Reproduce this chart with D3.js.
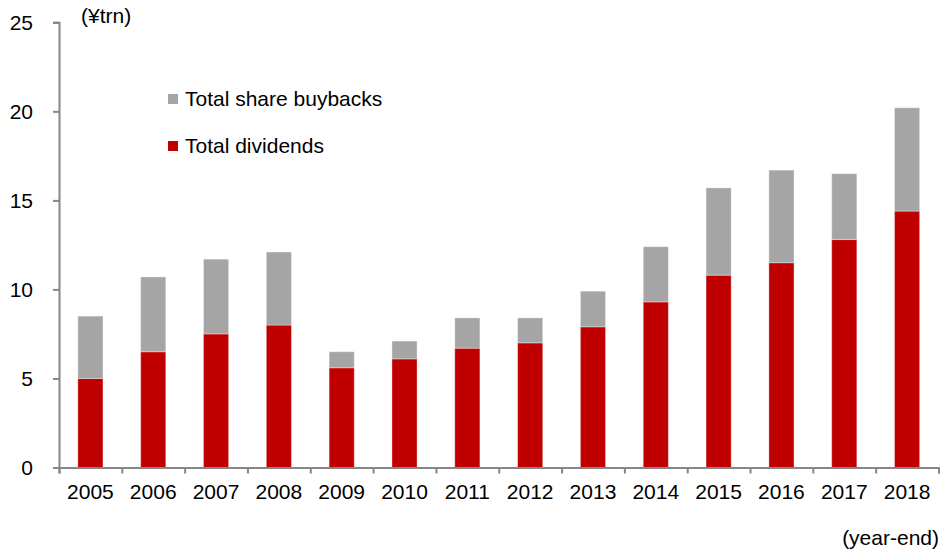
<!DOCTYPE html>
<html>
<head>
<meta charset="utf-8">
<script src="https://cdn.jsdelivr.net/npm/d3@7"></script>
<style>
body { margin: 0; background: #fff; }
text { font-family: "Liberation Sans", Arial, sans-serif; }
</style>
</head>
<body>
<div id="chart"></div>
<script>
// data (¥trn)
var years = ["2005","2006","2007","2008","2009","2010","2011","2012","2013","2014","2015","2016","2017","2018"];
var dividends = [5.0, 6.5, 7.5, 8.0, 5.6, 6.1, 6.7, 7.0, 7.9, 9.3, 10.8, 11.5, 12.8, 14.4];
var buybacks = [3.5, 4.2, 4.2, 4.1, 0.9, 1.0, 1.7, 1.4, 2.0, 3.1, 4.9, 5.2, 3.7, 5.8];
var yTicks = [0, 5, 10, 15, 20, 25];

//plot stacked bars
function plotChart(){
	var width = 942, height = 553;
	var plotLeft = 59, plotRight = 938.5, plotTop = 22.3, plotBottom = 467.5;
	var fontSize = "21px";

	var svg = d3.select("#chart").append("svg")
		.attr("width", width)
		.attr("height", height);

	var x = d3.scaleBand()
		.domain(years)
		.range([plotLeft, plotRight])
		.paddingInner(0.6)
		.paddingOuter(0.3);

	var y = d3.scaleLinear()
		.domain([0, 25])
		.range([plotBottom, plotTop]);

	var rows = years.map(function(d, i){
		return {year: d, dividends: dividends[i], buybacks: buybacks[i]};
	});

	var series = d3.stack().keys(["dividends", "buybacks"])(rows);
	var colors = {dividends: "#c00000", buybacks: "#a5a5a5"};

	svg.append("g")
		.selectAll("g")
		.data(series)
		.enter()
		.append("g")
		.attr("fill", function(d){ return colors[d.key]; })
		.selectAll("rect")
		.data(function(d){ return d; })
		.enter()
		.append("rect")
		.attr("x", function(d){ return x(d.data.year); })
		.attr("y", function(d){ return y(d[1]); })
		.attr("width", x.bandwidth())
		.attr("height", function(d){ return y(d[0]) - y(d[1]); })
		.attr("stroke", "#ffffff")
		.attr("stroke-opacity", 0.35)
		.attr("stroke-width", 1);

	// y axis
	var gy = svg.append("g")
		.attr("transform", "translate(" + plotLeft + ",0)")
		.call(d3.axisLeft(y).tickValues(yTicks).tickSize(6).tickPadding(20));
	gy.selectAll("text").style("font-size", fontSize).attr("fill", "#000");

	// x axis: boundary ticks
	var edge = d3.scaleLinear().domain([0, years.length]).range([plotLeft, plotRight]);
	svg.append("g")
		.attr("transform", "translate(0," + plotBottom + ")")
		.call(d3.axisBottom(edge).ticks(years.length).tickSize(6).tickFormat(""));

	// x axis: labels
	var gx = svg.append("g")
		.attr("transform", "translate(0," + plotBottom + ")")
		.call(d3.axisBottom(x).tickSize(0).tickPadding(17));
	gx.select(".domain").remove();
	gx.selectAll("text").style("font-size", fontSize).attr("fill", "#000");

	svg.selectAll(".domain, .tick line")
		.attr("stroke", "#868686")
		.attr("stroke-width", 2);

	// unit labels
	svg.append("text")
		.attr("x", 81)
		.attr("y", 23)
		.style("font-size", fontSize)
		.text("(¥trn)");

	svg.append("text")
		.attr("x", 939)
		.attr("y", 545)
		.attr("text-anchor", "end")
		.style("font-size", fontSize)
		.text("(year-end)");

	// legend
	var legend = [
		{label: "Total share buybacks", key: "buybacks", y: 99},
		{label: "Total dividends", key: "dividends", y: 146}
	];

	var lg = svg.append("g")
		.selectAll("g")
		.data(legend)
		.enter()
		.append("g")
		.attr("transform", function(d){ return "translate(168," + d.y + ")"; });

	lg.append("rect")
		.attr("x", 0)
		.attr("y", -5)
		.attr("width", 10)
		.attr("height", 10)
		.attr("fill", function(d){ return colors[d.key]; });

	lg.append("text")
		.attr("x", 17)
		.attr("dy", "0.35em")
		.style("font-size", fontSize)
		.text(function(d){ return d.label; });
}

plotChart();
</script>
</body>
</html>
